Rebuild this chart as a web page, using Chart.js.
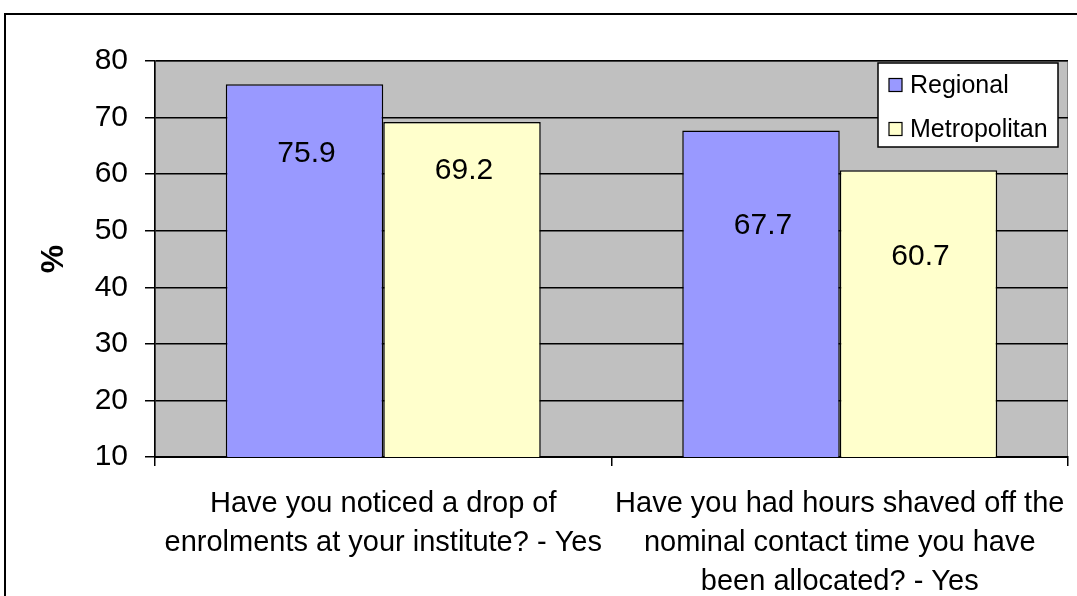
<!DOCTYPE html>
<html>
<head>
<meta charset="utf-8">
<script src="https://cdn.jsdelivr.net/npm/chart.js@4"></script>
<style>
  html, body { margin: 0; padding: 0; background: #fff; overflow: hidden; }
  #wrap { position: relative; width: 1077px; height: 596px; }
</style>
</head>
<body>
<div id="wrap"><canvas id="chart" width="1077" height="596"></canvas></div>
<script>
// DATA
const categories = [
  ['Have you noticed a drop of', 'enrolments at your institute? - Yes'],
  ['Have you had hours shaved off the', 'nominal contact time you have', 'been allocated? - Yes']
];
const regional = [75.9, 67.7];
const metropolitan = [69.2, 60.7];
const yTicks = [10, 20, 30, 40, 50, 60, 70, 80];

const FONT = "Arial, 'Liberation Sans', sans-serif";

// plot background + outer frame
const frame = {
  id: 'frame',
  beforeDraw(chart) {
    const { ctx, chartArea: a } = chart;
    ctx.save();
    ctx.fillStyle = '#c0c0c0';
    ctx.fillRect(a.left, a.top, a.right - a.left, a.bottom - a.top);
    ctx.strokeStyle = '#808080';
    ctx.lineWidth = 1;
    ctx.strokeRect(a.left + 0.5, a.top + 0.5, a.right - a.left - 1, a.bottom - a.top);
    // outer chart border (cut off at right and bottom)
    ctx.strokeStyle = '#000';
    ctx.lineWidth = 2;
    ctx.beginPath();
    ctx.moveTo(5, 600);
    ctx.lineTo(5, 14);
    ctx.lineTo(1080, 14);
    ctx.stroke();
    ctx.restore();
  }
};

// value labels inside bars
const barLabels = {
  id: 'barLabels',
  afterDatasetsDraw(chart, args, opts) {
    const { ctx } = chart;
    ctx.save();
    ctx.font = '30px ' + FONT;
    ctx.fillStyle = '#000';
    ctx.textAlign = 'center';
    ctx.textBaseline = 'middle';
    chart.data.datasets.forEach((ds, i) => {
      chart.getDatasetMeta(i).data.forEach((bar, j) => {
        ctx.fillText(ds.data[j].toFixed(1), bar.x + 2, bar.y + opts.offsets[i][j]);
      });
    });
    ctx.restore();
  }
};

// legend box
const legendBox = {
  id: 'legendBox',
  afterDraw(chart) {
    const { ctx } = chart;
    const x = 878, y = 63, w = 180, h = 84;
    ctx.save();
    ctx.fillStyle = '#fff';
    ctx.fillRect(x, y, w, h);
    ctx.strokeStyle = '#000';
    ctx.lineWidth = 1.5;
    ctx.strokeRect(x, y, w, h);
    ctx.font = '25px ' + FONT;
    ctx.textBaseline = 'middle';
    chart.data.datasets.forEach((ds, i) => {
      const cy = y + 22 + i * 44;
      ctx.fillStyle = ds.backgroundColor;
      ctx.fillRect(x + 11, cy - 6.5, 13, 13);
      ctx.lineWidth = 1.2;
      ctx.strokeRect(x + 11, cy - 6.5, 13, 13);
      ctx.fillStyle = '#000';
      ctx.fillText(ds.label, x + 32, cy + 1);
    });
    ctx.restore();
  }
};

new Chart(document.getElementById('chart'), {
  type: 'bar',
  data: {
    labels: categories,
    datasets: [
      { label: 'Regional', data: regional, backgroundColor: '#9999ff', borderColor: '#000', borderWidth: 1.5, borderSkipped: false },
      { label: 'Metropolitan', data: metropolitan, backgroundColor: '#ffffcc', borderColor: '#000', borderWidth: 1.5, borderSkipped: false }
    ]
  },
  options: {
    responsive: false,
    animation: false,
    layout: { padding: { top: 61, right: 9, left: 0, bottom: 0 } },
    datasets: { bar: { categoryPercentage: 0.69, barPercentage: 1 } },
    plugins: {
      legend: { display: false },
      tooltip: { enabled: false },
      barLabels: { offsets: [[70, 95], [49, 87]] }
    },
    scales: {
      x: {
        grid: { offset: true, drawOnChartArea: false, color: '#000', lineWidth: 1.5, tickLength: 9 },
        border: { color: '#000', width: 2 },
        ticks: { color: '#000', padding: 19, maxRotation: 0, autoSkip: false, font: { family: FONT, size: 29, lineHeight: 1.34 } },
        afterFit(scale) {
          scale.height = 139;
          scale.paddingLeft = 0;
          scale.paddingRight = 0;
        }
      },
      y: {
        min: yTicks[0],
        max: yTicks[yTicks.length - 1],
        afterBuildTicks(scale) { scale.ticks = yTicks.map(v => ({ value: v })); },
        grid: { color: '#000', lineWidth: 1.5, tickLength: 10 },
        border: { color: '#000', width: 1.5 },
        ticks: { color: '#000', padding: 17, font: { family: FONT, size: 30 } },
        title: { display: true, text: '%', color: '#000', padding: { top: 35, bottom: 0 }, font: { family: FONT, size: 32, weight: 'bold' } },
        afterFit(scale) { scale.width = 155; }
      }
    }
  },
  plugins: [frame, barLabels, legendBox]
});
</script>
</body>
</html>
